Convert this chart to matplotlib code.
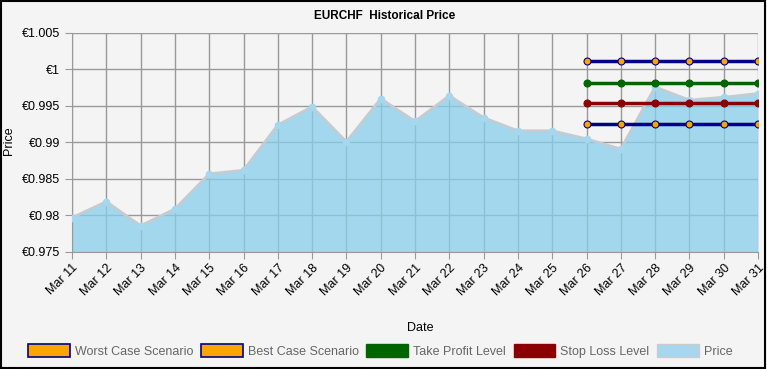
import numpy as np
import matplotlib.pyplot as plt
from matplotlib.patches import Patch
from matplotlib.ticker import FuncFormatter

plt.rcParams['font.family'] = ['Liberation Sans', 'DejaVu Sans']

dates = ['Mar 11', 'Mar 12', 'Mar 13', 'Mar 14', 'Mar 15', 'Mar 16', 'Mar 17',
         'Mar 18', 'Mar 19', 'Mar 20', 'Mar 21', 'Mar 22', 'Mar 23', 'Mar 24',
         'Mar 25', 'Mar 26', 'Mar 27', 'Mar 28', 'Mar 29', 'Mar 30', 'Mar 31']
price = [0.9797, 0.9819, 0.9786, 0.9809, 0.9857, 0.9862, 0.9924,
         0.9949, 0.9901, 0.9960, 0.9929, 0.9964, 0.9934, 0.9916,
         0.9916, 0.9905, 0.9891, 0.9976, 0.9958, 0.9962, 0.9967]

level_dates = dates[15:]
worst_case = [0.9925] * 6
best_case = [1.0011] * 6
take_profit = [0.9982] * 6
stop_loss = [0.99545] * 6

bg = '#f4f4f4'
fig = plt.figure(figsize=(7.67, 3.69), dpi=100, facecolor=bg)
fig.patches.append(plt.Rectangle((0.001, 0.002), 0.997, 0.996, transform=fig.transFigure,
                                 fill=False, edgecolor='black', linewidth=1.5))
ax = fig.add_axes([0.0939, 0.3171, 0.8944, 0.5935], facecolor=bg)

x = np.arange(len(dates))
ax.fill_between(x, 0.975, price, color='#87ceeb', alpha=0.75, linewidth=0, zorder=2)
ax.plot(x, price, color='#c4ccd2', linewidth=2, zorder=3)
ax.plot(x, price, color='#a6d7ee', linewidth=0, marker='o', markersize=4.5, zorder=4)

lx = x[15:]
for vals, col, mcol in [(best_case, '#00008b', 'orange'),
                        (take_profit, '#006400', '#006400'),
                        (stop_loss, '#8b0000', '#8b0000'),
                        (worst_case, '#00008b', 'orange')]:
    ax.plot(lx, vals, color=col, linewidth=2.5, marker='o', markersize=5,
            markerfacecolor=mcol, markeredgecolor=col, markeredgewidth=0.8, zorder=5)

ax.set_xlim(0, len(dates) - 1)
ax.set_ylim(0.975, 1.005)
ax.set_yticks([0.975, 0.98, 0.985, 0.99, 0.995, 1.0, 1.005])
ax.yaxis.set_major_formatter(FuncFormatter(lambda v, p: '€' + ('%.3f' % v).rstrip('0').rstrip('.')))
ax.set_xticks(x)
ax.set_xticklabels(dates, rotation=45, ha='right', rotation_mode='anchor')
ax.tick_params(axis='both', labelsize=9, color='#999999', length=5)
ax.tick_params(axis='x', pad=2)
ax.grid(True, color='#999999', linewidth=1, zorder=1)
ax.set_axisbelow(True)
for s in ['top', 'right']:
    ax.spines[s].set_visible(False)
ax.spines['left'].set_color('#999999')
ax.spines['bottom'].set_color('#999999')

fig.text(0.501, 0.957, 'EURCHF  Historical Price', fontsize=8.5, fontweight='bold',
         ha='center', va='center')
fig.text(0.012, 0.62, 'Price', rotation=90, fontsize=9, va='center', ha='center')
fig.text(0.548, 0.112, 'Date', fontsize=9, ha='center', va='center')

handles = [Patch(facecolor='orange', edgecolor='#00008b', linewidth=1.2),
           Patch(facecolor='orange', edgecolor='#00008b', linewidth=1.2),
           Patch(facecolor='#006400', edgecolor='#006400'),
           Patch(facecolor='#8b0000', edgecolor='#8b0000'),
           Patch(facecolor='#a6d7ee', edgecolor='#cccccc')]
labels = ['Worst Case Scenario', 'Best Case Scenario', 'Take Profit Level',
          'Stop Loss Level', 'Price']
leg = fig.legend(handles, labels, loc='center', bbox_to_anchor=(0.496, 0.048), ncol=5,
                 frameon=False, fontsize=9, handlelength=3.35, handleheight=1.2,
                 columnspacing=0.6, handletextpad=0.4)
for t in leg.get_texts():
    t.set_color('#666666')

fig.savefig('out.png', dpi=100, facecolor=bg)
